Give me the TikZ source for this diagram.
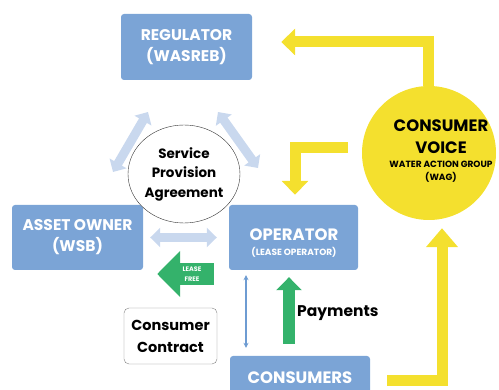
\documentclass[tikz,border=0pt]{standalone}
\usepackage{fontspec}
\setmainfont{Poppins}
\usetikzlibrary{arrows.meta,shapes.geometric,backgrounds}
\definecolor{boxblue}{HTML}{7BA4D6}
\definecolor{paleblue}{HTML}{C9D8EE}
\definecolor{voiceyellow}{HTML}{F4E02E}
\definecolor{leasegreen}{HTML}{34B26B}
\definecolor{linkblue}{HTML}{6E9CD2}

\begin{document}
\begin{tikzpicture}[x=1pt,y=-1pt,
    bluebox/.style={rectangle, rounded corners=3pt, fill=boxblue, text=white, align=center, inner sep=0pt, font=\fontsize{15.5}{21}\selectfont\bfseries},
    yarrow/.style={voiceyellow, line width=11pt, -{Triangle[length=14pt,width=26pt]}},
    palearrow/.style={paleblue, line width=9pt, {Triangle[length=10pt,width=19pt]}-{Triangle[length=10pt,width=19pt]}},
    greenarrow/.style={leasegreen, line width=12pt, -{Triangle[length=13pt,width=25pt]}},
    blacktext/.style={align=center, inner sep=0pt, font=\fontsize{13.5}{19.5}\selectfont\bfseries}
    ]
    \useasboundingbox (0,0) rectangle (499,390);
    \clip (0,0) rectangle (499,390);

    \node [bluebox, minimum width=131pt, minimum height=66pt] (reg) at (186.5,47) {REGULATOR\\(WASREB)};
    \node [bluebox, minimum width=131pt, minimum height=65pt] (asset) at (77.5,237.5) {ASSET OWNER\\(WSB)};
    \node [bluebox, minimum width=129pt, minimum height=65pt] (op) at (293.5,237.5) {};
    \node [text=white, font=\fontsize{16.5}{18}\selectfont\bfseries] (optitle) at (294,235) {OPERATOR};
    \node [text=white, font=\fontsize{9}{10}\selectfont\bfseries] (opsub) at (294,252) {(LEASE OPERATOR)};
    \node [bluebox, minimum width=140pt, minimum height=44pt, font=\fontsize{16.5}{18}\selectfont\bfseries] (cons) at (300,378) {CONSUMERS};

    % consumer voice loop
    \node [circle, fill=voiceyellow, minimum size=134pt, inner sep=0pt] (voice) at (429,153) {};
    \node [blacktext, font=\fontsize{16.5}{22}\selectfont\bfseries] (voicetitle) at (441,137) {CONSUMER\\VOICE};
    \node [blacktext, font=\fontsize{9}{13}\selectfont\bfseries] (voicesub) at (441,171.5) {WATER ACTION GROUP\\(WAG)};
    \begin{scope}[on background layer]
    \draw [yarrow] ([xshift=-1pt]voice.north) |- ([xshift=29pt,yshift=5pt]reg.east);
    \draw [yarrow] ([xshift=-14pt,yshift=5.5pt]voice.west) -| ([xshift=1.5pt,yshift=10pt]op.north);
    \draw [yarrow, -{Triangle[length=19pt,width=31pt]}] ([xshift=17pt,yshift=-3pt]cons.east) -| ([xshift=13pt,yshift=-8pt]voice.south);
    \end{scope}

    \coordinate (l1) at (113,172);
    \coordinate (l2) at (148,112);
    \coordinate (r1) at (218,112);
    \coordinate (r2) at (258,168);
    \draw [palearrow] (l1) -- (l2);
    \draw [palearrow] (r1) -- (r2);
    \draw [palearrow, shorten <=7pt, shorten >=12pt] (asset.east) -- (op.west);

    \node [ellipse, draw=black!80, fill=white, minimum width=112pt, minimum height=98pt, blacktext] (spa) at (184,174) {Service\\Provision\\Agreement};

    % lease free and payments
    \draw [greenarrow, line width=22pt, -{Triangle[length=23pt,width=45pt]}] ([yshift=-36.5pt,xshift=-15pt]op.west) -- ([yshift=-36.5pt,xshift=14pt]asset.east);
    \node [text=white, align=center, font=\fontsize{6.5}{10}\selectfont\bfseries] (lease) at (192,274) {LEASE\\FREE};
    \draw [greenarrow] ([xshift=-11pt,yshift=12pt]cons.north) -- ([xshift=-11pt,yshift=-7pt]cons.north |- op.south);
    \draw [linkblue, line width=1.3pt, {Stealth[length=5pt,width=5pt]}-{Stealth[length=5pt,width=5pt]}, shorten <=8pt, shorten >=5pt] ([xshift=-54pt]cons.north) -- ([xshift=-54pt]cons.north |- op.south);
    \node [blacktext, font=\fontsize{15.5}{16}\selectfont\bfseries, anchor=west] (pay) at (297,313) {Payments};

    \node [rectangle, rounded corners=5pt, draw=black!50, fill=white, minimum width=93pt, minimum height=56pt, blacktext, font=\fontsize{14.5}{22}\selectfont\bfseries] (contract) at (170.5,336) {Consumer\\Contract};
\end{tikzpicture}
\end{document}
